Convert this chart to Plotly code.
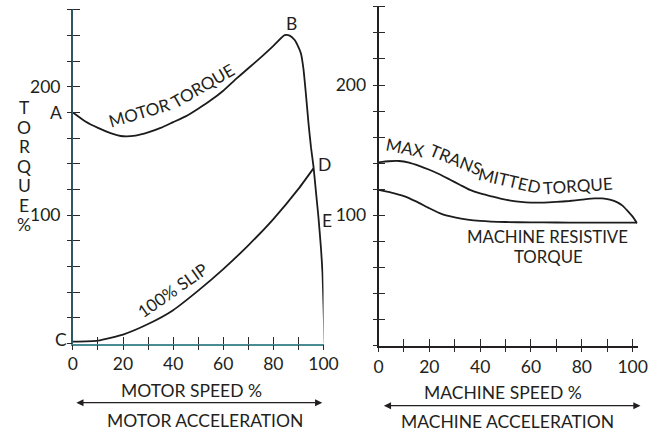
import plotly.graph_objects as go

W, H = 670, 431

# ---------------- data ----------------
motor_speed = [0, 5, 10, 15, 20, 25, 30, 35, 40, 45, 50, 55, 60, 65, 70, 75, 80,
               84.5, 86.5, 88.5, 90, 91, 92, 93, 94, 95, 96, 97, 98, 99, 99.6, 100, 100.4]
motor_torque = [180, 173, 168, 164, 161.5, 162, 164.5, 168, 172.5, 177, 183, 189.5,
                197, 206, 214.5, 223, 232, 240.3, 240, 236.5, 231, 226, 214, 194, 172,
                153, 138, 118, 98, 74, 55, 30, 0]

slip_speed = [0, 10, 20, 30, 40, 50, 60, 70, 80, 90, 96]
slip_torque = [1.5, 2.3, 7, 15.2, 26, 41.2, 58, 76.5, 97, 120.5, 136.5]

mach_speed_max = [0, 4, 8, 12, 16, 20, 24, 28, 32, 36, 40, 44, 48, 52, 56, 60, 65,
                  70, 75, 80, 85, 88, 91, 94, 96, 98, 100, 101.7]
max_transmitted = [140.7, 141.5, 141.7, 140.5, 138, 135, 131.5, 127.5, 123.5, 119.5,
                   116.8, 114.8, 112.8, 111.3, 110.3, 109.8, 109.8, 110.3, 111, 112,
                   113, 113, 112, 110, 107.5, 103.5, 99, 94]

mach_speed_res = [0, 5, 10, 15, 20, 25, 30, 35, 40, 50, 60, 70, 80, 90, 100, 101.7]
resistive = [119.5, 117.5, 114.8, 110.5, 105.5, 101, 98.5, 96.8, 95.8, 94.9, 94.6,
             94.5, 94.4, 94.4, 94.4, 94.4]

x_ticks = [0, 10, 20, 30, 40, 50, 60, 70, 80, 90, 100]
x_tick_text = ["0", "", "20", "", "40", "", "60", "", "80", "", "100"]
y_ticks = [0, 20, 40, 60, 80, 100, 120, 140, 160, 180, 200, 220, 240, 260]
y_tick_text = ["", "", "", "", "", "100", "", "", "", "", "200", "", "", ""]
y_title_letters = ["T", "O", "R", "Q", "U", "E", "%"]

# --------------- styling ---------------
FONT = "Lato"
TXT = "#231f20"
LINE = "#1c1c1c"
FS = 17.5
FC = 17  # curve labels

fig = go.Figure()
line_style = dict(color=LINE, width=1.8, shape="spline", smoothing=0.5)
fig.add_trace(go.Scatter(x=motor_speed, y=motor_torque, mode="lines", line=line_style,
                         xaxis="x", yaxis="y", showlegend=False, hoverinfo="skip"))
fig.add_trace(go.Scatter(x=slip_speed, y=slip_torque, mode="lines", line=line_style,
                         xaxis="x", yaxis="y", showlegend=False, hoverinfo="skip"))
fig.add_trace(go.Scatter(x=mach_speed_max, y=max_transmitted, mode="lines", line=line_style,
                         xaxis="x2", yaxis="y2", showlegend=False, hoverinfo="skip"))
fig.add_trace(go.Scatter(x=mach_speed_res, y=resistive, mode="lines", line=line_style,
                         xaxis="x2", yaxis="y2", showlegend=False, hoverinfo="skip"))
# helper traces for overlay axes (outer half of crossing ticks)
fig.add_trace(go.Scatter(x=[None], y=[None], xaxis="x3", yaxis="y3", showlegend=False))
fig.add_trace(go.Scatter(x=[None], y=[None], xaxis="x4", yaxis="y4", showlegend=False))


def PX(x):
    return x / W


def PY(y):
    return 1 - y / H


LX = [PX(70), PX(328.3)]
LY = [PY(343.5), PY(8.6)]
RX = [PX(385), PX(652.2)]
RY = [PY(345.7), PY(5.5)]
LRANGE_X = [0, 100]
RRANGE_X = [0, 102]
YRANGE = [0, 261]

tickfont = dict(family=FONT, size=FS, color=TXT)


def main_x(domain, rng, anchor, color):
    return dict(domain=domain, range=rng, anchor=anchor, showline=True, linecolor=color,
                linewidth=1.6, ticks="inside", ticklen=7, tickwidth=1.2, tickcolor="#2a2a2a",
                tickmode="array", tickvals=x_ticks, ticktext=x_tick_text, tickfont=tickfont,
                showgrid=False, zeroline=False, ticklabelstandoff=4, fixedrange=True)


def main_y(domain, anchor, color):
    return dict(domain=domain, range=YRANGE, anchor=anchor, showline=True, linecolor=color,
                linewidth=1.8, ticks="inside", ticklen=7, tickwidth=1.2, tickcolor="#2a2a2a",
                tickmode="array", tickvals=y_ticks, ticktext=y_tick_text, tickfont=tickfont,
                showgrid=False, zeroline=False, ticklabelstandoff=7, fixedrange=True)


def over_x(over, rng, anchor):
    return dict(overlaying=over, range=rng, anchor=anchor, showline=False, ticks="outside",
                ticklen=5, tickwidth=1.2, tickcolor="#2a2a2a", tickmode="array",
                tickvals=x_ticks, showticklabels=False, showgrid=False, zeroline=False,
                fixedrange=True)


def over_y(over, anchor):
    return dict(overlaying=over, range=YRANGE, anchor=anchor, showline=False, ticks="outside",
                ticklen=5, tickwidth=1.2, tickcolor="#2a2a2a", tickmode="array",
                tickvals=y_ticks, showticklabels=False, showgrid=False, zeroline=False,
                fixedrange=True)


fig.update_layout(
    width=W, height=H, autosize=False, margin=dict(l=0, r=0, t=0, b=0),
    paper_bgcolor="white", plot_bgcolor="rgba(0,0,0,0)",
    font=dict(family=FONT, size=FS, color=TXT),
    xaxis=main_x(LX, LRANGE_X, "y", "#4a8c94"),
    yaxis=main_y(LY, "x", "#2e5766"),
    xaxis2=main_x(RX, RRANGE_X, "y2", "#231f20"),
    yaxis2=main_y(RY, "x2", "#231f20"),
    xaxis3=over_x("x", LRANGE_X, "y3"),
    yaxis3=over_y("y", "x3"),
    xaxis4=over_x("x2", RRANGE_X, "y4"),
    yaxis4=over_y("y2", "x4"),
)

ann = []


def text_px(t, x, y, angle=0, size=FS, align="center"):
    ann.append(dict(text=t, x=PX(x), y=PY(y), xref="paper", yref="paper", showarrow=False,
                    textangle=angle, font=dict(family=FONT, size=size, color=TXT),
                    xanchor="center", yanchor="middle", align=align))


# point labels
text_px("A", 53, 113)
text_px("B", 295, 23)
text_px("C", 58, 339)
text_px("D", 329, 164)
text_px("E", 332, 220)

# curve labels
text_px("MOTOR", 139, 113, -16.5, FC)
text_px("TORQUE", 204, 86, -30, FC)
text_px("100% SLIP", 172, 290, -35, FC)
text_px("MAX", 412, 147, 11, FC)
text_px("TRANS", 465, 159, 22, FC)
text_px("MITTED", 520, 180, 13, FC)
text_px("TORQUE", 591, 185, -4, FC)
text_px("MACHINE RESISTIVE", 559, 236.5, 0, 16.8)
text_px("TORQUE", 560, 256, 0, 16.8)

# axis titles
for i, ch in enumerate(y_title_letters):
    text_px(ch, 20, 108 + i * 19.4)
text_px("MOTOR SPEED %", 192.5, 390)
text_px("MOTOR ACCELERATION", 205.8, 420)
text_px("MACHINE SPEED %", 513.3, 392.5)
text_px("MACHINE ACCELERATION", 517.5, 421.5)

# double-headed arrows
for xr, x0, x1, yy in [("x domain", (72 - 70) / (328.3 - 70), (327 - 70) / (328.3 - 70), 402.7),
                       ("x2 domain", (389 - 385) / (652.2 - 385), (655 - 385) / (652.2 - 385), 405.7)]:
    ann.append(dict(text="", x=x1, y=PY(yy), xref=xr, yref="paper",
                    ax=x0, ay=0, axref=xr, ayref="pixel",
                    showarrow=True, arrowhead=2, arrowside="end+start",
                    arrowsize=1.1, arrowwidth=1.3, arrowcolor="#231f20"))

fig.update_layout(annotations=ann)
fig.write_html("out.html",
               config=dict(displayModeBar=False, responsive=False),
               post_script="document.body.style.margin='0px';"
                           "document.body.style.overflow='hidden';")
